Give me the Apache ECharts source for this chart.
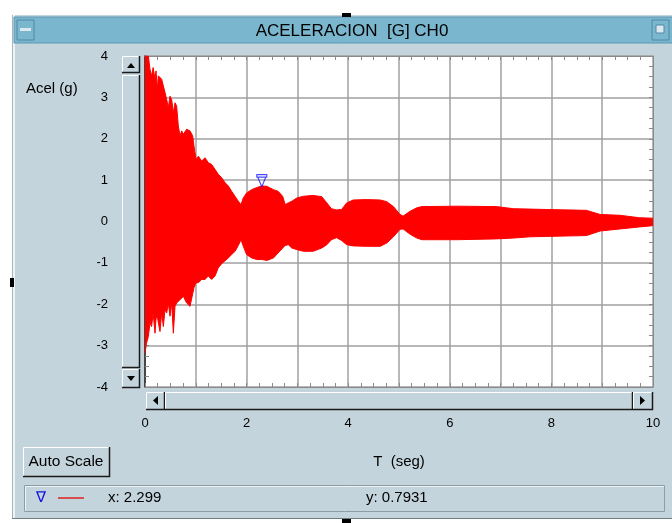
<!DOCTYPE html>
<html>
<head>
<meta charset="utf-8">
<script src="https://cdn.jsdelivr.net/npm/echarts@6/dist/echarts.min.js"></script>
<style>
  html, body { margin: 0; padding: 0; background: #fff; }
  #wrap { position: relative; width: 672px; height: 523px; overflow: hidden; }
  #panel { position: absolute; left: 12px; top: 15px; width: 680px; height: 504px;
           background: #c4d4dc; border-left: 1px solid #a8b4ba; box-shadow: inset 2px 0 0 #eef3f5; }
  #main { position: absolute; left: 0; top: 0; width: 672px; height: 523px; }
</style>
</head>
<body>
<div id="wrap">
  <div id="panel"></div>
  <div id="main"></div>
</div>
<script>
// time axis samples (s) and the envelope of the acceleration trace (g)
var TIME = [0, 0.03, 0.066, 0.098, 0.13, 0.16, 0.197, 0.217, 0.243, 0.263, 0.295, 0.328, 0.361, 0.394,
  0.427, 0.459, 0.492, 0.525, 0.558, 0.591, 0.623, 0.656, 0.689, 0.722, 0.755, 0.82, 0.886, 0.938,
  0.965, 1.004, 1.05, 1.116, 1.18, 1.247, 1.312, 1.378, 1.443, 1.509, 1.575, 1.64, 1.706, 1.772,
  1.837, 1.89, 1.935, 2.0, 2.1, 2.2, 2.3, 2.4, 2.53, 2.62, 2.71, 2.76, 2.82, 2.89, 2.99, 3.12, 3.31,
  3.48, 3.58, 3.67, 3.77, 3.87, 3.97, 4.1, 4.36, 4.63, 4.76, 4.89, 5.02, 5.08, 5.22, 5.35, 5.45,
  6.14, 6.92, 7.25, 7.58, 7.91, 8.69, 8.96, 9.35, 9.74, 10.0];
var UPPER = [4.0, 4.0, 4.0, 3.68, 3.52, 3.72, 3.44, 3.64, 3.2, 3.52, 3.56, 3.44, 3.28, 3.12,
  2.95, 2.75, 3.03, 2.95, 2.63, 2.87, 2.79, 2.31, 2.07, 2.19, 2.11, 2.23, 2.19, 2.07,
  1.82, 1.5, 1.58, 1.46, 1.54, 1.42, 1.38, 1.26, 1.14, 1.06, 0.94, 0.86, 0.73, 0.61,
  0.49, 0.41, 0.57, 0.69, 0.77, 0.82, 0.86, 0.85, 0.77, 0.73, 0.61, 0.41, 0.45, 0.49, 0.57, 0.61, 0.63,
  0.6, 0.45, 0.31, 0.28, 0.29, 0.45, 0.52, 0.53, 0.52, 0.48, 0.36, 0.17, 0.13, 0.25, 0.33, 0.36,
  0.37, 0.36, 0.31, 0.3, 0.29, 0.27, 0.17, 0.15, 0.09, 0.08];
var LOWER = [-3.18, -2.94, -2.78, -2.45, -2.54, -2.21, -2.7, -2.35, -2.29, -2.45, -2.66, -2.21, -2.54, -2.13,
  -2.21, -1.97, -2.29, -1.97, -2.7, -2.05, -1.97, -1.93, -1.89, -1.85, -1.81, -1.97, -2.05, -1.75,
  -1.6, -1.48, -1.48, -1.4, -1.4, -1.32, -1.4, -1.32, -1.12, -1.02, -0.95, -0.88, -0.8, -0.72,
  -0.58, -0.44, -0.6, -0.8, -0.88, -0.92, -0.92, -0.94, -0.88, -0.76, -0.64, -0.58, -0.56, -0.64, -0.68, -0.72, -0.72,
  -0.64, -0.56, -0.44, -0.39, -0.46, -0.56, -0.59, -0.6, -0.6, -0.52, -0.37, -0.19, -0.18, -0.31, -0.4, -0.44,
  -0.44, -0.42, -0.4, -0.37, -0.36, -0.34, -0.23, -0.18, -0.13, -0.1];
// cursor position
var CURSOR_X = 2.299;
var CURSOR_Y = 0.7931;

var FONT = 'Liberation Sans';
var chart = echarts.init(document.getElementById('main'), null, { renderer: 'canvas' });

var upperData = TIME.map(function (t, i) { return [t, UPPER[i]]; });
var lowerData = TIME.map(function (t, i) { return [t, LOWER[i]]; });

function btn(x, y, w, h) {
  return [
    { type: 'rect', shape: { x: x, y: y, width: w, height: h }, style: { fill: '#c4d4dc', stroke: null } },
    { type: 'polyline', shape: { points: [[x + 0.5, y + h], [x + 0.5, y + 0.5], [x + w, y + 0.5]] }, style: { stroke: '#ffffff', lineWidth: 1, fill: null } },
    { type: 'polyline', shape: { points: [[x, y + h - 0.5], [x + w - 0.5, y + h - 0.5], [x + w - 0.5, y]] }, style: { stroke: '#1a1a1a', lineWidth: 1.5, fill: null } }
  ];
}

var graphics = [];
// title bar
graphics.push({ type: 'rect', shape: { x: 14, y: 17, width: 662, height: 26 }, style: { fill: '#7ab7cf', stroke: '#5a98b4', lineWidth: 1 } });
graphics.push({ type: 'rect', shape: { x: 17, y: 20, width: 17, height: 20 }, style: { fill: '#7ab7cf', stroke: '#4d89a5', lineWidth: 1 } });
graphics.push({ type: 'rect', shape: { x: 20, y: 28, width: 11, height: 3 }, style: { fill: '#dde8ee' } });
graphics.push({ type: 'rect', shape: { x: 652, y: 20, width: 17, height: 20 }, style: { fill: '#7ab7cf', stroke: '#4d89a5', lineWidth: 1 } });
graphics.push({ type: 'rect', shape: { x: 656, y: 25, width: 8, height: 8 }, style: { fill: '#dde8ee', stroke: '#4d89a5', lineWidth: 1 } });
graphics.push({ type: 'text', x: 352, y: 31, style: { text: 'ACELERACION  [G] CH0', font: '17px ' + FONT, fill: '#000', align: 'center', verticalAlign: 'middle' } });
// small black handles
graphics.push({ type: 'rect', shape: { x: 342, y: 13, width: 9, height: 4 }, style: { fill: '#000' } });
graphics.push({ type: 'rect', shape: { x: 10, y: 278, width: 4, height: 9 }, style: { fill: '#000' } });
graphics.push({ type: 'rect', shape: { x: 342, y: 519, width: 9, height: 4 }, style: { fill: '#000' } });
// vertical scrollbar
graphics = graphics.concat(btn(122, 56, 18, 17));
graphics.push({ type: 'polygon', shape: { points: [[127, 68], [135, 68], [131, 63]] }, style: { fill: '#000' } });
graphics = graphics.concat(btn(122, 75, 18, 293));
graphics = graphics.concat(btn(122, 369, 18, 19));
graphics.push({ type: 'polygon', shape: { points: [[127, 376], [135, 376], [131, 381]] }, style: { fill: '#000' } });
// horizontal scrollbar
graphics = graphics.concat(btn(146, 392, 19, 18));
graphics.push({ type: 'polygon', shape: { points: [[158, 396], [158, 405], [153, 400.5]] }, style: { fill: '#000' } });
graphics = graphics.concat(btn(165, 392, 468, 18));
graphics = graphics.concat(btn(633, 392, 20, 18));
graphics.push({ type: 'polygon', shape: { points: [[640, 396], [640, 405], [645, 400.5]] }, style: { fill: '#000' } });
// y axis title
graphics.push({ type: 'text', x: 26, y: 89, style: { text: 'Acel (g)', font: '15px ' + FONT, fill: '#000', verticalAlign: 'middle' } });
// Auto Scale button
graphics = graphics.concat(btn(23, 447, 87, 30));
graphics.push({ type: 'text', x: 66, y: 462, style: { text: 'Auto Scale', font: '15.5px ' + FONT, fill: '#000', align: 'center', verticalAlign: 'middle' } });
// cursor legend box
graphics.push({ type: 'rect', shape: { x: 24.5, y: 485.5, width: 640, height: 26 }, style: { fill: null, stroke: '#8e9ca3', lineWidth: 1 } });
graphics.push({ type: 'polyline', shape: { points: [[25.5, 511], [25.5, 486.5], [664, 486.5]] }, style: { stroke: '#eef4f6', lineWidth: 1, fill: null } });
graphics.push({ type: 'text', x: 41, y: 498, style: { text: '\u2207', font: '15px ' + FONT, fill: '#1010e0', align: 'center', verticalAlign: 'middle' } });
graphics.push({ type: 'line', shape: { x1: 58, y1: 498, x2: 84, y2: 498 }, style: { stroke: '#e02020', lineWidth: 1.5 } });
graphics.push({ type: 'text', x: 108, y: 498, style: { text: 'x: 2.299', font: '15px ' + FONT, fill: '#000', verticalAlign: 'middle' } });
graphics.push({ type: 'text', x: 366, y: 498, style: { text: 'y: 0.7931', font: '15px ' + FONT, fill: '#000', verticalAlign: 'middle' } });
// bottom frame line
graphics.push({ type: 'line', shape: { x1: 12, y1: 518.5, x2: 672, y2: 518.5 }, style: { stroke: '#6f7b80', lineWidth: 1 } });

var minorTick = { show: true, splitNumber: 4, length: 4, lineStyle: { color: '#8a8a8a', width: 1 } };
var tick = { show: true, inside: true, length: 4, lineStyle: { color: '#8a8a8a' } };

var option = {
  animation: false,
  textStyle: { fontFamily: FONT },
  grid: { left: 145, top: 56, width: 508, height: 331, show: true, backgroundColor: '#ffffff', borderWidth: 0 },
  graphic: graphics,
  xAxis: [
    {
      type: 'value', min: 0, max: 10, interval: 1, position: 'bottom',
      name: 'T  (seg)', nameLocation: 'middle', nameGap: 67,
      nameTextStyle: { color: '#000', fontSize: 15, fontFamily: FONT },
      axisLine: { show: true, onZero: false, lineStyle: { color: '#8a8a8a', width: 1 } },
      axisTick: tick, minorTick: Object.assign({}, minorTick),
      axisLabel: { color: '#000', fontSize: 13, margin: 30, fontFamily: FONT,
        formatter: function (v) { return v % 2 === 0 ? String(v) : ''; } },
      splitLine: { show: true, lineStyle: { color: '#a0a0a0', width: 1.5 } }
    },
    {
      type: 'value', min: 0, max: 10, interval: 1, position: 'top',
      axisLine: { show: true, onZero: false, lineStyle: { color: '#8a8a8a', width: 1 } },
      axisTick: tick, minorTick: Object.assign({}, minorTick),
      axisLabel: { show: false }, splitLine: { show: false }
    }
  ],
  yAxis: [
    {
      type: 'value', min: -4, max: 4, interval: 1, position: 'left',
      axisLine: { show: true, onZero: false, lineStyle: { color: '#222', width: 1.5 } },
      axisTick: tick, minorTick: Object.assign({}, minorTick),
      axisLabel: { color: '#000', fontSize: 13, margin: 37, fontFamily: FONT },
      splitLine: { show: true, lineStyle: { color: '#a0a0a0', width: 1.5 } }
    },
    {
      type: 'value', min: -4, max: 4, interval: 1, position: 'right',
      axisLine: { show: true, onZero: false, lineStyle: { color: '#8a8a8a', width: 1 } },
      axisTick: tick, minorTick: Object.assign({}, minorTick),
      axisLabel: { show: false }, splitLine: { show: false }
    }
  ],
  series: [
    {
      type: 'line', data: upperData, showSymbol: false, symbol: 'none',
      lineStyle: { color: '#ff0000', width: 1 },
      areaStyle: { color: '#ff0000', opacity: 1, origin: -0.05 }, z: 3
    },
    {
      type: 'line', data: lowerData, showSymbol: false, symbol: 'none',
      lineStyle: { color: '#ff0000', width: 1 },
      areaStyle: { color: '#ff0000', opacity: 1, origin: 0.05 }, z: 3
    },
    {
      type: 'scatter', data: [[CURSOR_X, CURSOR_Y]],
      symbol: 'path://M0,0 L10,0 L10,2 L0,2 Z M1,2 L9,2 L5,10 Z',
      symbolSize: [10, 12], symbolOffset: [0, -8],
      itemStyle: { color: 'rgba(0,0,0,0)', borderColor: '#1a1aff', borderWidth: 1.2 }, z: 5
    }
  ]
};
chart.setOption(option);
</script>
</body>
</html>
